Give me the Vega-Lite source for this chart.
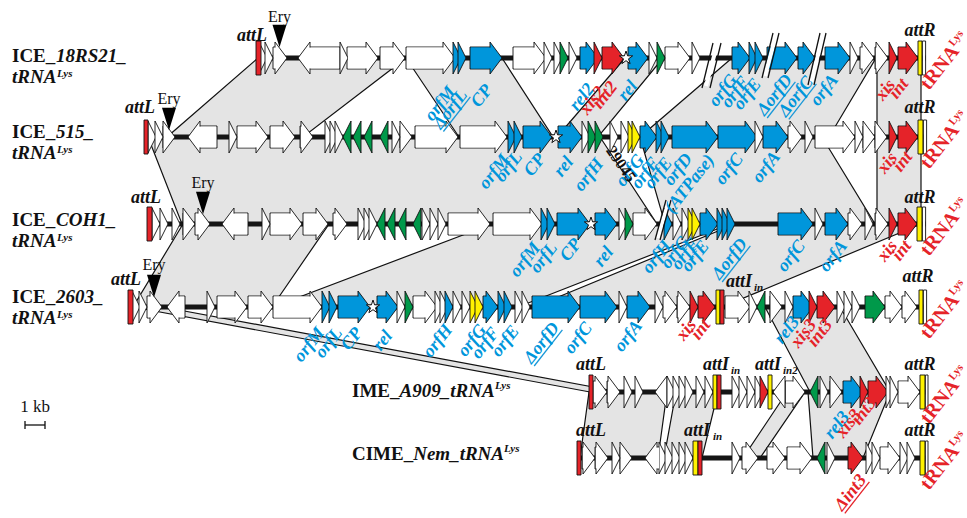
{
"$schema":"https://vega.github.io/schema/vega-lite/v6.json",
"width":967,"height":518,"padding":0,"autosize":{"type":"none"},
"config":{"view":{"stroke":null}},
"datasets":{
"tracks":[{"t":"t1","y":58},{"t":"t2","y":137},{"t":"t3","y":224},{"t":"t4","y":307},{"t":"t5","y":392},{"t":"t6","y":458}],
"backbone":[{"t":"t1","s":12.9,"e":46.3},{"t":"t2","s":7.2,"e":46.3},{"t":"t3","s":7.35,"e":46.3},{"t":"t4","s":6.4,"e":46.3},{"t":"t5","s":29.45,"e":46.3},{"t":"t6","s":28.85,"e":46.3}],
"polys":[
{"id":"p1","t":"t1","x1":12.9,"x2":20.3},{"id":"p1","t":"t2","x1":8.35,"x2":15.15},
{"id":"p2","t":"t1","x1":20.3,"x2":25.1},{"id":"p2","t":"t2","x1":22.95,"x2":27.65},
{"id":"p3","t":"t1","x1":31.25,"x2":33.15},{"id":"p3","t":"t2","x1":27.85,"x2":29.9},
{"id":"p4","t":"t1","x1":36.6,"x2":43.8},{"id":"p4","t":"t2","x1":32.0,"x2":41.45},
{"id":"p5","t":"t1","x1":43.85,"x2":46.05},{"id":"p5","t":"t2","x1":43.85,"x2":46.05},
{"id":"p6","t":"t2","x1":7.4,"x2":30.0},{"id":"p6","t":"t3","x1":9.1,"x2":32.85},
{"id":"p7","t":"t2","x1":32.0,"x2":41.1},{"id":"p7","t":"t3","x1":33.25,"x2":43.75},
{"id":"p8","t":"t2","x1":43.85,"x2":46.05},{"id":"p8","t":"t3","x1":43.85,"x2":46.05},
{"id":"p9","t":"t3","x1":9.15,"x2":16.45},{"id":"p9","t":"t4","x1":6.65,"x2":13.6},
{"id":"p10","t":"t3","x1":24.6,"x2":36.5},{"id":"p10","t":"t4","x1":13.65,"x2":25.9},
{"id":"p11","t":"t3","x1":36.75,"x2":46.05},{"id":"p11","t":"t4","x1":26.7,"x2":36.1},
{"id":"p12","t":"t4","x1":6.65,"x2":8.15},{"id":"p12","t":"t5","x1":29.5,"x2":31.0},
{"id":"p13","t":"t4","x1":38.25,"x2":42.0},{"id":"p13","t":"t5","x1":40.5,"x2":44.5},
{"id":"p14","t":"t5","x1":29.45,"x2":33.35},{"id":"p14","t":"t6","x1":29.0,"x2":32.9},
{"id":"p15","t":"t5","x1":33.8,"x2":35.9},{"id":"p15","t":"t6","x1":33.2,"x2":35.1},
{"id":"p16","t":"t5","x1":39.35,"x2":40.25},{"id":"p16","t":"t6","x1":37.15,"x2":38.0},
{"id":"p17","t":"t5","x1":40.4,"x2":44.5},{"id":"p17","t":"t6","x1":40.65,"x2":43.15}
],
"genes":[
{"t":"t1","s":13.1,"e":13.35,"d":"+","c":"other"},{"t":"t1","s":13.35,"e":13.65,"d":"+","c":"other"},{"t":"t1","s":13.65,"e":14.35,"d":"+","c":"other"},{"t":"t1","s":14.9,"e":17.0,"d":"-","c":"other"},{"t":"t1","s":17.0,"e":17.4,"d":"+","c":"other"},{"t":"t1","s":17.35,"e":18.9,"d":"+","c":"other"},{"t":"t1","s":19.0,"e":20.25,"d":"+","c":"other"},{"t":"t1","s":20.3,"e":22.75,"d":"+","c":"other"},{"t":"t1","s":22.85,"e":23.05,"d":"+","c":"conj"},{"t":"t1","s":23.05,"e":23.3,"d":"+","c":"conj"},{"t":"t1","s":23.5,"e":25.1,"d":"+","c":"conj"},{"t":"t1","s":25.65,"e":27.3,"d":"+","c":"other"},{"t":"t1","s":27.3,"e":27.6,"d":"+","c":"other"},{"t":"t1","s":27.85,"e":28.1,"d":"+","c":"other"},{"t":"t1","s":28.15,"e":28.4,"d":"+","c":"reg"},{"t":"t1","s":28.6,"e":28.85,"d":"+","c":"other"},{"t":"t1","s":29.0,"e":29.9,"d":"+","c":"conj"},{"t":"t1","s":29.9,"e":30.1,"d":"+","c":"recomb"},{"t":"t1","s":30.1,"e":31.2,"d":"+","c":"recomb"},{"t":"t1","s":31.4,"e":32.4,"d":"+","c":"conj"},{"t":"t1","s":32.5,"e":32.85,"d":"+","c":"other"},{"t":"t1","s":32.9,"e":33.25,"d":"+","c":"reg"},{"t":"t1","s":33.25,"e":34.5,"d":"+","c":"other"},{"t":"t1","s":34.5,"e":35.0,"d":"+","c":"other"},{"t":"t1","s":36.6,"e":37.5,"d":"+","c":"conj"},{"t":"t1","s":37.6,"e":37.85,"d":"+","c":"conj"},{"t":"t1","s":37.85,"e":38.15,"d":"+","c":"conj"},{"t":"t1","s":38.35,"e":39.85,"d":"+","c":"conj"},{"t":"t1","s":39.9,"e":40.75,"d":"+","c":"conj"},{"t":"t1","s":41.25,"e":42.5,"d":"+","c":"conj"},{"t":"t1","s":42.55,"e":42.9,"d":"+","c":"other"},{"t":"t1","s":43.0,"e":43.7,"d":"+","c":"other"},{"t":"t1","s":43.75,"e":44.4,"d":"+","c":"other"},{"t":"t1","s":44.55,"e":44.85,"d":"+","c":"recomb"},{"t":"t1","s":44.9,"e":45.9,"d":"+","c":"recomb"},
{"t":"t2","s":7.45,"e":7.8,"d":"+","c":"other"},{"t":"t2","s":7.8,"e":8.15,"d":"+","c":"other"},{"t":"t2","s":8.15,"e":8.75,"d":"+","c":"other"},{"t":"t2","s":9.4,"e":10.85,"d":"-","c":"other"},{"t":"t2","s":11.5,"e":11.85,"d":"+","c":"other"},{"t":"t2","s":11.85,"e":13.4,"d":"+","c":"other"},{"t":"t2","s":13.5,"e":14.75,"d":"+","c":"other"},{"t":"t2","s":15.0,"e":15.65,"d":"+","c":"other"},{"t":"t2","s":16.35,"e":16.65,"d":"+","c":"other"},{"t":"t2","s":16.65,"e":16.9,"d":"+","c":"other"},{"t":"t2","s":16.9,"e":17.15,"d":"+","c":"other"},{"t":"t2","s":17.15,"e":17.6,"d":"-","c":"reg"},{"t":"t2","s":17.65,"e":18.1,"d":"-","c":"reg"},{"t":"t2","s":18.2,"e":18.6,"d":"-","c":"reg"},{"t":"t2","s":19.0,"e":19.4,"d":"-","c":"reg"},{"t":"t2","s":19.5,"e":20.0,"d":"+","c":"other"},{"t":"t2","s":20.0,"e":20.6,"d":"+","c":"other"},{"t":"t2","s":20.75,"e":22.9,"d":"+","c":"other"},{"t":"t2","s":23.0,"e":25.35,"d":"+","c":"other"},{"t":"t2","s":25.5,"e":25.8,"d":"+","c":"conj"},{"t":"t2","s":25.8,"e":26.1,"d":"+","c":"conj"},{"t":"t2","s":26.15,"e":27.6,"d":"+","c":"conj"},{"t":"t2","s":27.9,"e":29.1,"d":"+","c":"conj"},{"t":"t2","s":29.15,"e":29.5,"d":"+","c":"other"},{"t":"t2","s":29.5,"e":29.8,"d":"+","c":"reg"},{"t":"t2","s":29.8,"e":30.15,"d":"+","c":"reg"},{"t":"t2","s":30.35,"e":30.9,"d":"+","c":"other"},{"t":"t2","s":30.9,"e":31.45,"d":"+","c":"other"},{"t":"t2","s":31.6,"e":31.8,"d":"+","c":"misc"},{"t":"t2","s":31.8,"e":32.0,"d":"+","c":"misc"},{"t":"t2","s":32.0,"e":32.85,"d":"+","c":"conj"},{"t":"t2","s":32.95,"e":33.2,"d":"+","c":"conj"},{"t":"t2","s":33.2,"e":33.45,"d":"+","c":"conj"},{"t":"t2","s":33.6,"e":35.9,"d":"+","c":"conj"},{"t":"t2","s":35.9,"e":37.85,"d":"+","c":"conj"},{"t":"t2","s":37.9,"e":38.15,"d":"+","c":"other"},{"t":"t2","s":38.15,"e":39.4,"d":"+","c":"conj"},{"t":"t2","s":39.4,"e":40.1,"d":"+","c":"other"},{"t":"t2","s":40.1,"e":40.65,"d":"+","c":"other"},{"t":"t2","s":40.75,"e":42.75,"d":"+","c":"other"},{"t":"t2","s":42.9,"e":43.15,"d":"+","c":"other"},{"t":"t2","s":43.15,"e":43.75,"d":"+","c":"other"},{"t":"t2","s":43.75,"e":44.35,"d":"+","c":"other"},{"t":"t2","s":44.55,"e":44.85,"d":"+","c":"recomb"},{"t":"t2","s":44.9,"e":45.9,"d":"+","c":"recomb"},
{"t":"t3","s":7.65,"e":8.0,"d":"+","c":"other"},{"t":"t3","s":8.0,"e":8.4,"d":"+","c":"other"},{"t":"t3","s":8.5,"e":9.0,"d":"+","c":"other"},{"t":"t3","s":9.15,"e":9.75,"d":"+","c":"other"},{"t":"t3","s":9.75,"e":10.5,"d":"+","c":"other"},{"t":"t3","s":11.1,"e":12.4,"d":"-","c":"other"},{"t":"t3","s":13.1,"e":13.5,"d":"+","c":"other"},{"t":"t3","s":13.5,"e":15.1,"d":"+","c":"other"},{"t":"t3","s":15.15,"e":16.4,"d":"+","c":"other"},{"t":"t3","s":16.65,"e":17.35,"d":"+","c":"other"},{"t":"t3","s":18.0,"e":18.3,"d":"+","c":"other"},{"t":"t3","s":18.3,"e":18.6,"d":"+","c":"other"},{"t":"t3","s":18.6,"e":18.85,"d":"+","c":"other"},{"t":"t3","s":18.85,"e":19.25,"d":"-","c":"reg"},{"t":"t3","s":19.35,"e":19.75,"d":"-","c":"reg"},{"t":"t3","s":19.9,"e":20.25,"d":"-","c":"reg"},{"t":"t3","s":20.65,"e":21.1,"d":"-","c":"reg"},{"t":"t3","s":21.1,"e":21.5,"d":"+","c":"other"},{"t":"t3","s":21.5,"e":21.9,"d":"+","c":"other"},{"t":"t3","s":21.9,"e":22.3,"d":"+","c":"other"},{"t":"t3","s":22.4,"e":24.5,"d":"+","c":"other"},{"t":"t3","s":24.65,"e":27.1,"d":"+","c":"other"},{"t":"t3","s":27.15,"e":27.45,"d":"+","c":"conj"},{"t":"t3","s":27.45,"e":27.75,"d":"+","c":"conj"},{"t":"t3","s":27.85,"e":29.5,"d":"+","c":"conj"},{"t":"t3","s":29.75,"e":30.85,"d":"+","c":"conj"},{"t":"t3","s":30.9,"e":31.35,"d":"+","c":"other"},{"t":"t3","s":31.35,"e":31.65,"d":"+","c":"reg"},{"t":"t3","s":31.65,"e":32.85,"d":"+","c":"other"},{"t":"t3","s":33.35,"e":33.6,"d":"+","c":"conj"},{"t":"t3","s":33.6,"e":34.05,"d":"+","c":"other"},{"t":"t3","s":34.05,"e":34.5,"d":"+","c":"other"},{"t":"t3","s":34.6,"e":34.8,"d":"+","c":"misc"},{"t":"t3","s":34.8,"e":35.0,"d":"+","c":"misc"},{"t":"t3","s":35.0,"e":35.9,"d":"+","c":"conj"},{"t":"t3","s":36.0,"e":36.25,"d":"+","c":"conj"},{"t":"t3","s":36.25,"e":36.5,"d":"+","c":"conj"},{"t":"t3","s":36.5,"e":36.75,"d":"+","c":"conj"},{"t":"t3","s":38.9,"e":40.65,"d":"+","c":"conj"},{"t":"t3","s":40.9,"e":41.15,"d":"+","c":"other"},{"t":"t3","s":41.25,"e":42.4,"d":"+","c":"conj"},{"t":"t3","s":42.4,"e":43.1,"d":"+","c":"other"},{"t":"t3","s":43.1,"e":43.65,"d":"+","c":"other"},{"t":"t3","s":43.75,"e":44.4,"d":"+","c":"other"},{"t":"t3","s":44.55,"e":44.85,"d":"+","c":"recomb"},{"t":"t3","s":44.9,"e":45.85,"d":"+","c":"recomb"},
{"t":"t4","s":6.65,"e":7.0,"d":"+","c":"other"},{"t":"t4","s":7.0,"e":7.35,"d":"+","c":"other"},{"t":"t4","s":7.35,"e":8.1,"d":"+","c":"other"},{"t":"t4","s":8.35,"e":9.25,"d":"-","c":"other"},{"t":"t4","s":10.35,"e":10.75,"d":"+","c":"other"},{"t":"t4","s":10.85,"e":12.35,"d":"+","c":"other"},{"t":"t4","s":12.4,"e":13.65,"d":"+","c":"other"},{"t":"t4","s":13.65,"e":16.1,"d":"+","c":"other"},{"t":"t4","s":16.15,"e":16.5,"d":"+","c":"conj"},{"t":"t4","s":16.5,"e":16.85,"d":"+","c":"conj"},{"t":"t4","s":16.9,"e":18.5,"d":"+","c":"conj"},{"t":"t4","s":18.85,"e":19.9,"d":"+","c":"conj"},{"t":"t4","s":20.0,"e":20.25,"d":"+","c":"other"},{"t":"t4","s":20.35,"e":20.65,"d":"+","c":"reg"},{"t":"t4","s":20.65,"e":21.85,"d":"+","c":"other"},{"t":"t4","s":21.9,"e":22.15,"d":"+","c":"other"},{"t":"t4","s":22.15,"e":22.4,"d":"+","c":"other"},{"t":"t4","s":22.4,"e":22.65,"d":"+","c":"conj"},{"t":"t4","s":22.65,"e":23.05,"d":"+","c":"other"},{"t":"t4","s":23.05,"e":23.5,"d":"+","c":"other"},{"t":"t4","s":23.65,"e":23.9,"d":"+","c":"misc"},{"t":"t4","s":23.9,"e":24.15,"d":"+","c":"misc"},{"t":"t4","s":24.15,"e":24.9,"d":"+","c":"conj"},{"t":"t4","s":25.0,"e":25.3,"d":"+","c":"conj"},{"t":"t4","s":25.3,"e":25.6,"d":"+","c":"conj"},{"t":"t4","s":25.85,"e":26.15,"d":"+","c":"other"},{"t":"t4","s":26.15,"e":26.5,"d":"+","c":"other"},{"t":"t4","s":26.6,"e":29.0,"d":"+","c":"conj"},{"t":"t4","s":29.0,"e":30.85,"d":"+","c":"conj"},{"t":"t4","s":31.1,"e":31.35,"d":"+","c":"other"},{"t":"t4","s":31.35,"e":32.5,"d":"+","c":"conj"},{"t":"t4","s":32.6,"e":33.15,"d":"+","c":"other"},{"t":"t4","s":33.15,"e":33.85,"d":"+","c":"other"},{"t":"t4","s":33.85,"e":34.5,"d":"+","c":"other"},{"t":"t4","s":34.65,"e":34.9,"d":"+","c":"recomb"},{"t":"t4","s":34.9,"e":35.75,"d":"+","c":"recomb"},{"t":"t4","s":36.25,"e":37.5,"d":"+","c":"other"},{"t":"t4","s":37.6,"e":37.85,"d":"+","c":"other"},{"t":"t4","s":37.85,"e":38.4,"d":"-","c":"reg"},{"t":"t4","s":38.5,"e":39.1,"d":"+","c":"other"},{"t":"t4","s":39.15,"e":39.65,"d":"+","c":"other"},{"t":"t4","s":39.65,"e":40.65,"d":"+","c":"conj"},{"t":"t4","s":40.65,"e":40.85,"d":"+","c":"recomb"},{"t":"t4","s":40.85,"e":41.75,"d":"+","c":"recomb"},{"t":"t4","s":41.85,"e":42.25,"d":"+","c":"other"},{"t":"t4","s":42.25,"e":42.6,"d":"+","c":"other"},{"t":"t4","s":42.6,"e":43.0,"d":"+","c":"other"},{"t":"t4","s":43.25,"e":44.25,"d":"+","c":"reg"},{"t":"t4","s":44.25,"e":45.1,"d":"+","c":"other"},{"t":"t4","s":45.1,"e":45.85,"d":"+","c":"other"},
{"t":"t5","s":29.65,"e":30.35,"d":"+","c":"other"},{"t":"t5","s":30.35,"e":31.0,"d":"+","c":"other"},{"t":"t5","s":31.1,"e":31.6,"d":"+","c":"other"},{"t":"t5","s":31.6,"e":32.15,"d":"+","c":"other"},{"t":"t5","s":32.75,"e":33.35,"d":"-","c":"other"},{"t":"t5","s":33.4,"e":33.75,"d":"+","c":"other"},{"t":"t5","s":33.75,"e":34.05,"d":"+","c":"other"},{"t":"t5","s":34.05,"e":34.35,"d":"+","c":"other"},{"t":"t5","s":34.35,"e":34.65,"d":"+","c":"other"},{"t":"t5","s":34.75,"e":35.2,"d":"+","c":"other"},{"t":"t5","s":35.2,"e":35.65,"d":"+","c":"other"},{"t":"t5","s":36.65,"e":37.0,"d":"+","c":"other"},{"t":"t5","s":37.0,"e":37.35,"d":"+","c":"other"},{"t":"t5","s":37.35,"e":37.75,"d":"+","c":"other"},{"t":"t5","s":37.75,"e":38.15,"d":"+","c":"other"},{"t":"t5","s":38.2,"e":38.4,"d":"+","c":"recomb"},{"t":"t5","s":38.65,"e":39.25,"d":"-","c":"other"},{"t":"t5","s":39.25,"e":40.25,"d":"+","c":"other"},{"t":"t5","s":40.5,"e":40.9,"d":"-","c":"reg"},{"t":"t5","s":40.9,"e":41.4,"d":"+","c":"other"},{"t":"t5","s":41.5,"e":42.1,"d":"+","c":"other"},{"t":"t5","s":42.15,"e":43.15,"d":"+","c":"conj"},{"t":"t5","s":43.15,"e":43.4,"d":"+","c":"recomb"},{"t":"t5","s":43.4,"e":44.4,"d":"+","c":"recomb"},{"t":"t5","s":44.5,"e":44.7,"d":"+","c":"other"},{"t":"t5","s":44.7,"e":44.9,"d":"+","c":"other"},{"t":"t5","s":44.9,"e":46.0,"d":"+","c":"other"},
{"t":"t6","s":29.1,"e":29.75,"d":"+","c":"other"},{"t":"t6","s":29.75,"e":30.4,"d":"+","c":"other"},{"t":"t6","s":30.5,"e":31.0,"d":"+","c":"other"},{"t":"t6","s":31.0,"e":31.6,"d":"+","c":"other"},{"t":"t6","s":32.25,"e":33.0,"d":"-","c":"other"},{"t":"t6","s":33.0,"e":33.35,"d":"+","c":"other"},{"t":"t6","s":33.35,"e":33.65,"d":"+","c":"other"},{"t":"t6","s":33.65,"e":34.0,"d":"+","c":"other"},{"t":"t6","s":34.0,"e":34.35,"d":"+","c":"other"},{"t":"t6","s":34.35,"e":34.65,"d":"+","c":"other"},{"t":"t6","s":36.5,"e":37.0,"d":"+","c":"other"},{"t":"t6","s":37.1,"e":37.9,"d":"+","c":"other"},{"t":"t6","s":38.35,"e":39.25,"d":"+","c":"other"},{"t":"t6","s":39.35,"e":40.6,"d":"+","c":"other"},{"t":"t6","s":40.85,"e":41.25,"d":"-","c":"reg"},{"t":"t6","s":41.4,"e":41.75,"d":"+","c":"other"},{"t":"t6","s":42.4,"e":43.15,"d":"+","c":"recomb"},{"t":"t6","s":43.4,"e":43.7,"d":"+","c":"other"},{"t":"t6","s":43.7,"e":44.0,"d":"+","c":"other"},{"t":"t6","s":44.0,"e":45.0,"d":"+","c":"other"},{"t":"t6","s":45.1,"e":45.4,"d":"+","c":"other"},{"t":"t6","s":45.4,"e":45.75,"d":"+","c":"other"}
],
"sites":[
{"t":"t1","s":12.8,"e":13.05,"k":"attL"},{"t":"t1","s":45.9,"e":46.1,"k":"attR"},{"t":"t1","s":46.12,"e":46.28,"k":"tRNA"},
{"t":"t2","s":7.2,"e":7.4,"k":"attL"},{"t":"t2","s":45.9,"e":46.15,"k":"attR"},{"t":"t2","s":46.17,"e":46.33,"k":"tRNA"},
{"t":"t3","s":7.35,"e":7.6,"k":"attL"},{"t":"t3","s":45.85,"e":46.1,"k":"attR"},{"t":"t3","s":46.12,"e":46.28,"k":"tRNA"},
{"t":"t4","s":6.4,"e":6.65,"k":"attL"},{"t":"t4","s":35.8,"e":36.0,"k":"attR"},{"t":"t4","s":36.0,"e":36.2,"k":"attL"},{"t":"t4","s":45.95,"e":46.15,"k":"attR"},{"t":"t4","s":46.17,"e":46.33,"k":"tRNA"},
{"t":"t5","s":29.45,"e":29.65,"k":"attL"},{"t":"t5","s":35.65,"e":35.85,"k":"attR"},{"t":"t5","s":35.85,"e":36.05,"k":"attL"},{"t":"t5","s":38.4,"e":38.6,"k":"attR"},{"t":"t5","s":46.0,"e":46.25,"k":"attR"},{"t":"t5","s":46.27,"e":46.4,"k":"tRNA"},
{"t":"t6","s":28.85,"e":29.05,"k":"attL"},{"t":"t6","s":34.65,"e":34.9,"k":"attR"},{"t":"t6","s":34.9,"e":35.1,"k":"attL"},{"t":"t6","s":46.0,"e":46.25,"k":"attR"},{"t":"t6","s":46.27,"e":46.4,"k":"tRNA"}
],
"stars":[{"t":"t1","x":31.3},{"t":"t2","x":27.8},{"t":"t3","x":29.55},{"t":"t4","x":18.65}],
"ery":[{"x":13.975,"ty":22,"my":36},{"x":8.45,"ty":104,"my":119},{"x":10.15,"ty":188,"my":203},{"x":7.7,"ty":270,"my":286}],
"gaps":[{"x":35.85,"y":45,"x2":35.3,"y2":86},{"x":38.8,"y":35,"x2":38.25,"y2":76},{"x":41.15,"y":35,"x2":40.55,"y2":83},{"x":33.425,"y":202,"x2":32.875,"y2":238}],
"rules":[
{"x":35.65,"y":43,"x2":35.1,"y2":88},{"x":36.05,"y":43,"x2":35.5,"y2":88},
{"x":38.65,"y":33,"x2":38.1,"y2":78},{"x":38.95,"y":33,"x2":38.4,"y2":78},
{"x":41.0,"y":33,"x2":40.4,"y2":85},{"x":41.3,"y":33,"x2":40.7,"y2":85},
{"x":33.3,"y":200,"x2":32.75,"y2":240},{"x":33.55,"y":200,"x2":33.0,"y2":240},
{"x":1.25,"y":425,"x2":2.25,"y2":425},{"x":1.25,"y":421,"x2":1.25,"y2":429},{"x":2.25,"y":421,"x2":2.25,"y2":429}
],
"underl":[
{"x":23.52,"y":96.8,"x2":22.17,"y2":131.5,"c":"conj"},
{"x":39.77,"y":81.8,"x2":38.36,"y2":118.0,"c":"conj"},
{"x":40.82,"y":83.8,"x2":39.44,"y2":119.3,"c":"conj"},
{"x":37.52,"y":245.8,"x2":36.11,"y2":282.0,"c":"conj"},
{"x":28.12,"y":329.8,"x2":26.71,"y2":366.0,"c":"conj"},
{"x":43.47,"y":481.8,"x2":42.24,"y2":513.3,"c":"recomb"}
],
"labels":[
{"x":22.8,"y":92,"text":"orfM","c":"conj"},{"x":23.4,"y":95,"text":"ΔorfL","c":"conj"},{"x":24.65,"y":90,"text":"CP","c":"conj"},{"x":29.75,"y":89,"text":"rel2","c":"conj"},{"x":30.3,"y":92,"text":"xis2","c":"recomb"},{"x":30.9,"y":87,"text":"int2","c":"recomb"},{"x":31.9,"y":86,"text":"rel","c":"conj"},{"x":36.9,"y":80,"text":"orfG","c":"conj"},{"x":37.5,"y":82,"text":"orfF","c":"conj"},{"x":38.1,"y":84,"text":"orfE","c":"conj"},{"x":39.65,"y":80,"text":"ΔorfD","c":"conj"},{"x":40.7,"y":82,"text":"ΔorfC","c":"conj"},{"x":41.95,"y":80,"text":"orfA","c":"conj"},{"x":44.8,"y":85,"text":"xis","c":"recomb"},{"x":45.45,"y":84,"text":"int","c":"recomb"},
{"x":25.5,"y":160,"text":"orfM","c":"conj"},{"x":26.15,"y":157,"text":"orfL","c":"conj"},{"x":27.3,"y":159,"text":"CP","c":"conj"},{"x":28.7,"y":162,"text":"rel","c":"conj"},{"x":30.2,"y":164,"text":"orfH","c":"conj"},{"x":32.25,"y":160,"text":"orfG","c":"conj"},{"x":33.0,"y":163,"text":"orfF","c":"conj"},{"x":33.65,"y":163,"text":"orfE","c":"conj"},{"x":34.65,"y":159,"text":"orfD","c":"conj"},{"x":35.75,"y":160,"text":"(ATPase)","c":"conj"},{"x":37.2,"y":159,"text":"orfC","c":"conj"},{"x":39.05,"y":157,"text":"orfA","c":"conj"},{"x":44.9,"y":158,"text":"xis","c":"recomb"},{"x":45.65,"y":157,"text":"int","c":"recomb"},
{"x":27.05,"y":248,"text":"orfM","c":"conj"},{"x":27.9,"y":248,"text":"orfL","c":"conj"},{"x":29.1,"y":244,"text":"CP","c":"conj"},{"x":30.7,"y":252,"text":"rel","c":"conj"},{"x":33.6,"y":246,"text":"orfH","c":"conj"},{"x":34.5,"y":242,"text":"orfG","c":"conj"},{"x":35.0,"y":244,"text":"orfF","c":"conj"},{"x":35.5,"y":246,"text":"orfE","c":"conj"},{"x":37.4,"y":244,"text":"ΔorfD","c":"conj"},{"x":40.3,"y":246,"text":"orfC","c":"conj"},{"x":42.4,"y":246,"text":"orfA","c":"conj"},{"x":44.9,"y":246,"text":"xis","c":"recomb"},{"x":45.6,"y":246,"text":"int","c":"recomb"},
{"x":16.25,"y":333,"text":"orfM","c":"conj"},{"x":17.15,"y":333,"text":"orfL","c":"conj"},{"x":18.15,"y":333,"text":"CP","c":"conj"},{"x":19.65,"y":336,"text":"rel","c":"conj"},{"x":22.65,"y":330,"text":"orfH","c":"conj"},{"x":24.35,"y":330,"text":"orfG","c":"conj"},{"x":25.0,"y":333,"text":"orfF","c":"conj"},{"x":26.0,"y":331,"text":"orfE","c":"conj"},{"x":28.0,"y":328,"text":"ΔorfD","c":"conj"},{"x":29.65,"y":328,"text":"orfC","c":"conj"},{"x":32.15,"y":326,"text":"orfA","c":"conj"},{"x":34.85,"y":325,"text":"xis","c":"recomb"},{"x":35.55,"y":325,"text":"int","c":"recomb"},{"x":40.0,"y":322,"text":"rel3","c":"conj"},{"x":40.85,"y":325,"text":"xis3","c":"recomb"},{"x":41.65,"y":325,"text":"int3","c":"recomb"},
{"x":42.5,"y":417,"text":"rel3","c":"conj"},{"x":43.1,"y":415,"text":"xis3","c":"recomb"},{"x":43.85,"y":403,"text":"int3","c":"recomb"},{"x":43.35,"y":480,"text":"Δint3","c":"recomb"}
],
"trna":[{"x":46.45,"y":91},{"x":46.45,"y":170},{"x":46.45,"y":257},{"x":46.45,"y":340},{"x":46.45,"y":425},{"x":46.45,"y":491}],
"nameRoman":[{"x":0.6,"y":62,"text":"ICE_"},{"x":0.6,"y":138,"text":"ICE_"},{"x":0.6,"y":226,"text":"ICE_"},{"x":0.6,"y":303,"text":"ICE_"},{"x":17.6,"y":397,"text":"IME_"},{"x":17.6,"y":460,"text":"CIME_"}],
"nameItalic":[{"x":2.8,"y":62,"text":"18RS21_"},{"x":0.6,"y":83,"text":"tRNA"},{"x":2.8,"y":138,"text":"515_"},{"x":0.6,"y":159,"text":"tRNA"},{"x":2.8,"y":226,"text":"COH1_"},{"x":0.6,"y":247,"text":"tRNA"},{"x":2.8,"y":303,"text":"2603_"},{"x":0.6,"y":324,"text":"tRNA"},{"x":19.98,"y":397,"text":"A909_tRNA"},{"x":20.66,"y":460,"text":"Nem_tRNA"}],
"sup":[{"x":2.85,"y":77,"text":"Lys"},{"x":2.85,"y":153,"text":"Lys"},{"x":2.85,"y":241,"text":"Lys"},{"x":2.85,"y":318,"text":"Lys"},{"x":24.75,"y":389,"text":"Lys"},{"x":25.2,"y":452,"text":"Lys"},
{"x":37.7,"y":291,"text":"in"},{"x":36.55,"y":374,"text":"in"},{"x":39.15,"y":374,"text":"in2"},{"x":35.65,"y":440,"text":"in"}],
"att":[{"x":12.6,"y":41,"text":"attL"},{"x":46.0,"y":36,"text":"attR"},{"x":7.0,"y":113,"text":"attL"},{"x":46.0,"y":113,"text":"attR"},{"x":7.3,"y":203,"text":"attL"},{"x":46.0,"y":203,"text":"attR"},{"x":6.3,"y":285,"text":"attL"},{"x":45.9,"y":282,"text":"attR"},{"x":36.95,"y":287,"text":"attI"},{"x":29.55,"y":370,"text":"attL"},{"x":35.8,"y":370,"text":"attI"},{"x":38.4,"y":370,"text":"attI"},{"x":46.0,"y":370,"text":"attR"},{"x":29.55,"y":436,"text":"attL"},{"x":34.85,"y":436,"text":"attI"},{"x":46.0,"y":436,"text":"attR"}],
"plain":[{"x":1.75,"y":412,"text":"1 kb"}],
"inv":[{"x":31.05,"y":164,"text":"29045"}]
},
"layer":[
{"data":{"name":"polys"},"transform":[{"lookup":"t","from":{"data":{"name":"tracks"},"key":"t","fields":["y"]}}],
 "mark":{"type":"area","orient":"horizontal","fill":"#e4e4e4","opacity":1,"stroke":"#111111","strokeWidth":1.2},
 "encoding":{"y":{"field":"y","type":"quantitative","scale":{"domain":[0,518],"reverse":true,"nice":false,"zero":false},"axis":null},
  "x":{"field":"x1","type":"quantitative","scale":{"domain":[0,48.35],"nice":false,"zero":false},"axis":null},
  "x2":{"field":"x2"},"detail":{"field":"id","type":"nominal"}}},
{"data":{"name":"backbone"},"transform":[{"lookup":"t","from":{"data":{"name":"tracks"},"key":"t","fields":["y"]}}],
 "mark":{"type":"rule","strokeWidth":5,"color":"#151515"},
 "encoding":{"x":{"field":"s","type":"quantitative"},"x2":{"field":"e"},"y":{"field":"y","type":"quantitative"}}},
{"data":{"name":"genes"},"transform":[{"lookup":"t","from":{"data":{"name":"tracks"},"key":"t","fields":["y"]}},{"filter":"datum.d=='+' && datum.e-datum.s>=0.59"}],
 "mark":{"type":"rect","x2Offset":-11,"yOffset":-11,"y2Offset":11,"stroke":"#111111","strokeWidth":0.9},
 "encoding":{"x":{"field":"s","type":"quantitative"},"x2":{"field":"e"},"y":{"field":"y","type":"quantitative"},"y2":{"field":"y"},
  "fill":{"field":"c","type":"nominal","legend":null,"scale":{"domain":["other","conj","recomb","reg","misc","attL","attR","tRNA"],"range":["#ffffff","#0096db","#e52329","#00994a","#fff200","#e52329","#fff200","#ffffff"]}}}},
{"data":{"name":"genes"},"transform":[{"lookup":"t","from":{"data":{"name":"tracks"},"key":"t","fields":["y"]}},{"filter":"datum.d=='-' && datum.e-datum.s>=0.59"}],
 "mark":{"type":"rect","xOffset":11,"yOffset":-11,"y2Offset":11,"stroke":"#111111","strokeWidth":0.9},
 "encoding":{"x":{"field":"s","type":"quantitative"},"x2":{"field":"e"},"y":{"field":"y","type":"quantitative"},"y2":{"field":"y"},
  "fill":{"field":"c","type":"nominal","legend":null}}},
{"data":{"name":"genes"},"transform":[{"lookup":"t","from":{"data":{"name":"tracks"},"key":"t","fields":["y"]}},{"filter":"datum.d=='+' && datum.e-datum.s>=0.59"}],
 "mark":{"type":"point","shape":"M0,0L-0.75,-1L-0.75,1Z","size":1024,"filled":true,"opacity":1,"stroke":"#111111","strokeWidth":0.9},
 "encoding":{"x":{"field":"e","type":"quantitative"},"y":{"field":"y","type":"quantitative"},"fill":{"field":"c","type":"nominal","legend":null}}},
{"data":{"name":"genes"},"transform":[{"lookup":"t","from":{"data":{"name":"tracks"},"key":"t","fields":["y"]}},{"filter":"datum.d=='-' && datum.e-datum.s>=0.59"}],
 "mark":{"type":"point","shape":"M0,0L0.75,-1L0.75,1Z","size":1024,"filled":true,"opacity":1,"stroke":"#111111","strokeWidth":0.9},
 "encoding":{"x":{"field":"s","type":"quantitative"},"y":{"field":"y","type":"quantitative"},"fill":{"field":"c","type":"nominal","legend":null}}},
{"data":{"name":"genes"},"transform":[{"lookup":"t","from":{"data":{"name":"tracks"},"key":"t","fields":["y"]}},{"filter":"datum.d=='+' && datum.e-datum.s<0.59"}],
 "mark":{"type":"point","shape":"M0,0L-0.5,-1L-0.5,1Z","size":1024,"filled":true,"opacity":1,"stroke":"#111111","strokeWidth":0.9},
 "encoding":{"x":{"field":"e","type":"quantitative"},"y":{"field":"y","type":"quantitative"},"fill":{"field":"c","type":"nominal","legend":null}}},
{"data":{"name":"genes"},"transform":[{"lookup":"t","from":{"data":{"name":"tracks"},"key":"t","fields":["y"]}},{"filter":"datum.d=='-' && datum.e-datum.s<0.59"}],
 "mark":{"type":"point","shape":"M0,0L0.5,-1L0.5,1Z","size":1024,"filled":true,"opacity":1,"stroke":"#111111","strokeWidth":0.9},
 "encoding":{"x":{"field":"s","type":"quantitative"},"y":{"field":"y","type":"quantitative"},"fill":{"field":"c","type":"nominal","legend":null}}},
{"data":{"name":"genes"},"transform":[{"lookup":"t","from":{"data":{"name":"tracks"},"key":"t","fields":["y"]}},{"filter":"datum.d=='+' && datum.e-datum.s>=0.59"}],
 "mark":{"type":"rect","xOffset":1,"x2Offset":-9,"yOffset":-10.4,"y2Offset":10.4,"strokeWidth":0},
 "encoding":{"x":{"field":"s","type":"quantitative"},"x2":{"field":"e"},"y":{"field":"y","type":"quantitative"},"y2":{"field":"y"},"fill":{"field":"c","type":"nominal","legend":null}}},
{"data":{"name":"genes"},"transform":[{"lookup":"t","from":{"data":{"name":"tracks"},"key":"t","fields":["y"]}},{"filter":"datum.d=='-' && datum.e-datum.s>=0.59"}],
 "mark":{"type":"rect","xOffset":9,"x2Offset":-1,"yOffset":-10.4,"y2Offset":10.4,"strokeWidth":0},
 "encoding":{"x":{"field":"s","type":"quantitative"},"x2":{"field":"e"},"y":{"field":"y","type":"quantitative"},"y2":{"field":"y"},"fill":{"field":"c","type":"nominal","legend":null}}},
{"data":{"name":"sites"},"transform":[{"lookup":"t","from":{"data":{"name":"tracks"},"key":"t","fields":["y"]}}],
 "mark":{"type":"rect","yOffset":-17,"y2Offset":17,"stroke":"#111111","strokeWidth":0.9},
 "encoding":{"x":{"field":"s","type":"quantitative"},"x2":{"field":"e"},"y":{"field":"y","type":"quantitative"},"y2":{"field":"y"},"fill":{"field":"k","type":"nominal","legend":null}}},
{"data":{"name":"stars"},"transform":[{"lookup":"t","from":{"data":{"name":"tracks"},"key":"t","fields":["y"]}}],
 "mark":{"type":"point","shape":"M0,-1L0.2245,-0.309L0.951,-0.309L0.363,0.118L0.588,0.809L0,0.382L-0.588,0.809L-0.363,0.118L-0.951,-0.309L-0.2245,-0.309Z","size":196,"filled":true,"fill":"#ffffff","opacity":1,"stroke":"#111111","strokeWidth":1},
 "encoding":{"x":{"field":"x","type":"quantitative"},"y":{"field":"y","type":"quantitative"}}},
{"data":{"name":"ery"},
 "mark":{"type":"point","shape":"M-1,-1.6L1,-1.6L0,1.6Z","size":196,"filled":true,"fill":"#000000","opacity":1},
 "encoding":{"x":{"field":"x","type":"quantitative"},"y":{"field":"my","type":"quantitative"}}},
{"data":{"name":"ery"},
 "mark":{"type":"text","font":"Liberation Serif","fontSize":16,"align":"center","baseline":"alphabetic","fill":"#111111"},
 "encoding":{"x":{"field":"x","type":"quantitative"},"y":{"field":"ty","type":"quantitative"},"text":{"value":"Ery"}}},
{"data":{"name":"gaps"},
 "mark":{"type":"rule","color":"#ffffff","strokeWidth":4},
 "encoding":{"x":{"field":"x","type":"quantitative"},"x2":{"field":"x2"},"y":{"field":"y","type":"quantitative"},"y2":{"field":"y2"}}},
{"data":{"name":"rules"},
 "mark":{"type":"rule","color":"#111111","strokeWidth":1.3},
 "encoding":{"x":{"field":"x","type":"quantitative"},"x2":{"field":"x2"},"y":{"field":"y","type":"quantitative"},"y2":{"field":"y2"}}},
{"data":{"name":"underl"},
 "mark":{"type":"rule","strokeWidth":1.3},
 "encoding":{"x":{"field":"x","type":"quantitative"},"x2":{"field":"x2"},"y":{"field":"y","type":"quantitative"},"y2":{"field":"y2"},
  "stroke":{"field":"c","type":"nominal","legend":null,"scale":{"domain":["conj","recomb"],"range":["#1a98d8","#e52329"]}}}},
{"data":{"name":"labels"},
 "mark":{"type":"text","font":"Liberation Serif","fontSize":18,"fontWeight":"bold","fontStyle":"italic","angle":-52,"align":"right","baseline":"alphabetic"},
 "encoding":{"x":{"field":"x","type":"quantitative"},"y":{"field":"y","type":"quantitative"},"text":{"field":"text","type":"nominal"},"fill":{"field":"c","type":"nominal","legend":null}}},
{"data":{"name":"trna"},
 "mark":{"type":"text","font":"Liberation Serif","fontSize":20,"fontWeight":"bold","angle":-52,"align":"left","baseline":"alphabetic","fill":"#e52329"},
 "encoding":{"x":{"field":"x","type":"quantitative"},"y":{"field":"y","type":"quantitative"},"text":{"value":"tRNA"}}},
{"data":{"name":"trna"},
 "mark":{"type":"text","font":"Liberation Serif","fontSize":11,"fontWeight":"bold","angle":-52,"align":"left","baseline":"alphabetic","dx":50,"dy":-8,"fill":"#e52329"},
 "encoding":{"x":{"field":"x","type":"quantitative"},"y":{"field":"y","type":"quantitative"},"text":{"value":"Lys"}}},
{"data":{"name":"nameRoman"},
 "mark":{"type":"text","font":"Liberation Serif","fontSize":19,"fontWeight":"bold","align":"left","baseline":"alphabetic","fill":"#111111"},
 "encoding":{"x":{"field":"x","type":"quantitative"},"y":{"field":"y","type":"quantitative"},"text":{"field":"text","type":"nominal"}}},
{"data":{"name":"nameItalic"},
 "mark":{"type":"text","font":"Liberation Serif","fontSize":19,"fontWeight":"bold","fontStyle":"italic","align":"left","baseline":"alphabetic","fill":"#111111"},
 "encoding":{"x":{"field":"x","type":"quantitative"},"y":{"field":"y","type":"quantitative"},"text":{"field":"text","type":"nominal"}}},
{"data":{"name":"sup"},
 "mark":{"type":"text","font":"Liberation Serif","fontSize":11,"fontStyle":"italic","fontWeight":"bold","align":"left","baseline":"alphabetic","fill":"#111111"},
 "encoding":{"x":{"field":"x","type":"quantitative"},"y":{"field":"y","type":"quantitative"},"text":{"field":"text","type":"nominal"}}},
{"data":{"name":"att"},
 "mark":{"type":"text","font":"Liberation Serif","fontSize":18,"fontWeight":"bold","fontStyle":"italic","align":"center","baseline":"alphabetic","fill":"#111111"},
 "encoding":{"x":{"field":"x","type":"quantitative"},"y":{"field":"y","type":"quantitative"},"text":{"field":"text","type":"nominal"}}},
{"data":{"name":"plain"},
 "mark":{"type":"text","font":"Liberation Serif","fontSize":17,"align":"center","baseline":"alphabetic","fill":"#111111"},
 "encoding":{"x":{"field":"x","type":"quantitative"},"y":{"field":"y","type":"quantitative"},"text":{"field":"text","type":"nominal"}}},
{"data":{"name":"inv"},
 "mark":{"type":"text","font":"Liberation Serif","fontSize":16,"fontWeight":"bold","angle":55,"align":"center","baseline":"middle","fill":"#111111"},
 "encoding":{"x":{"field":"x","type":"quantitative"},"y":{"field":"y","type":"quantitative"},"text":{"field":"text","type":"nominal"}}}
]
}
